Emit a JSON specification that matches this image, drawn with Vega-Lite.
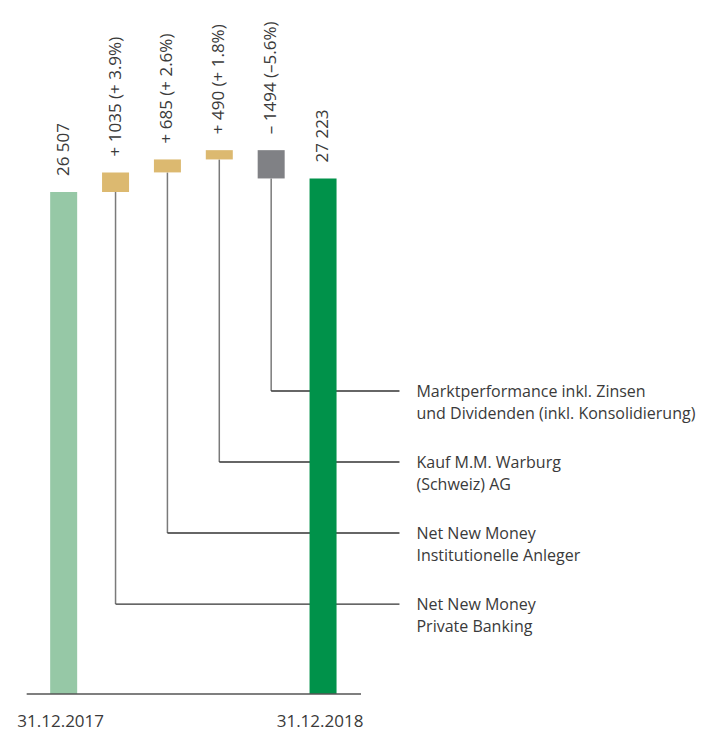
{
  "$schema": "https://vega.github.io/schema/vega-lite/v6.json",
  "width": 725,
  "height": 731,
  "padding": 0,
  "autosize": {"type": "none"},
  "config": {"view": {"stroke": null}, "text": {"font": "Open Sans", "fontSize": 16, "color": "#3a3a3a"}},
  "datasets": {
    "bars": [
      {"idx": 1, "start": 0, "end": 26507, "top": 26507, "kind": "start", "label": "26 507"},
      {"idx": 2, "start": 26507, "end": 27542, "top": 27542, "kind": "plus", "label": "+ 1035 (+ 3.9%)"},
      {"idx": 3, "start": 27542, "end": 28227, "top": 28227, "kind": "plus", "label": "+ 685 (+ 2.6%)"},
      {"idx": 4, "start": 28227, "end": 28717, "top": 28717, "kind": "plus", "label": "+ 490 (+ 1.8%)"},
      {"idx": 5, "start": 28717, "end": 27223, "top": 28717, "kind": "minus", "label": "– 1494 (–5.6%)"},
      {"idx": 6, "start": 0, "end": 27223, "top": 27223, "kind": "end", "label": "27 223"}
    ],
    "connectors": [
      {"idx": 2, "barBottom": 26507, "level": 4750, "text": ["Net New Money", "Private Banking"]},
      {"idx": 3, "barBottom": 27542, "level": 8500, "text": ["Net New Money", "Institutionelle Anleger"]},
      {"idx": 4, "barBottom": 28227, "level": 12250, "text": ["Kauf M.M. Warburg", "(Schweiz) AG"]},
      {"idx": 5, "barBottom": 27223, "level": 16000, "text": ["Marktperformance inkl. Zinsen", "und Dividenden (inkl. Konsolidierung)"]}
    ],
    "dates": [
      {"idx": 1, "date": "31.12.2017"},
      {"idx": 6, "date": "31.12.2018"}
    ]
  },
  "layer": [
    {
      "data": {"name": "connectors"},
      "mark": {"type": "rule", "color": "#7a7a7a", "strokeWidth": 1.5},
      "encoding": {
        "x": {"field": "idx", "type": "quantitative", "scale": {"domain": [-0.131, 13.652], "nice": false, "zero": false}, "axis": null},
        "y": {"field": "level", "type": "quantitative", "scale": {"domain": [-1954, 36646], "nice": false, "zero": false}, "axis": null},
        "y2": {"field": "barBottom"}
      }
    },
    {
      "data": {"name": "connectors"},
      "mark": {"type": "rule", "color": "#333333", "strokeWidth": 1.3},
      "encoding": {
        "x": {"field": "idx", "type": "quantitative"},
        "x2": {"datum": 7.473},
        "y": {"field": "level", "type": "quantitative"}
      }
    },
    {
      "data": {"name": "connectors"},
      "mark": {"type": "text", "align": "left", "baseline": "alphabetic", "dx": 17, "dy": 6, "lineHeight": 22},
      "encoding": {
        "x": {"datum": 7.473},
        "y": {"field": "level", "type": "quantitative"},
        "text": {"field": "text"}
      }
    },
    {
      "data": {"name": "bars"},
      "mark": {"type": "bar", "width": 27},
      "encoding": {
        "x": {"field": "idx", "type": "quantitative"},
        "y": {"field": "start", "type": "quantitative"},
        "y2": {"field": "end"},
        "color": {"field": "kind", "type": "nominal", "legend": null,
          "scale": {"domain": ["start", "plus", "minus", "end"], "range": ["#96C8A6", "#DCB970", "#808185", "#00924A"]}}
      }
    },
    {
      "data": {"name": "bars"},
      "mark": {"type": "text", "angle": 270, "align": "left", "baseline": "middle", "dx": 16, "fontSize": 17},
      "encoding": {
        "x": {"field": "idx", "type": "quantitative"},
        "y": {"field": "top", "type": "quantitative"},
        "text": {"field": "label"}
      }
    },
    {
      "data": {"values": [{}]},
      "mark": {"type": "rule", "color": "#555555", "strokeWidth": 1.3},
      "encoding": {
        "x": {"datum": 0.287},
        "x2": {"datum": 6.732},
        "y": {"datum": 0}
      }
    },
    {
      "data": {"name": "dates"},
      "mark": {"type": "text", "align": "center", "baseline": "alphabetic", "dy": 33, "dx": -3, "fontSize": 17},
      "encoding": {
        "x": {"field": "idx", "type": "quantitative"},
        "y": {"datum": 0},
        "text": {"field": "date"}
      }
    }
  ]
}
